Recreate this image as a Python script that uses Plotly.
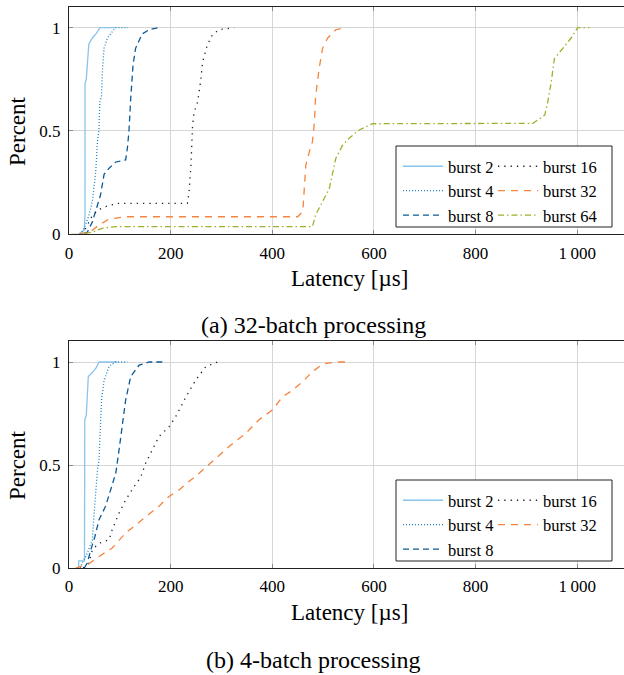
import plotly.graph_objects as go

# ---------------- data (a) 32-batch processing ----------------
a_b2_x = [18, 25, 30, 31.5, 31.5, 34, 39, 46, 53, 61, 92]
a_b2_y = [0, 0.01, 0.02, 0.1, 0.73, 0.75, 0.92, 0.95, 0.97, 1.0, 1.0]

a_b4_x = [22, 30, 39, 46, 52.5, 56, 59, 60.5, 64, 66, 69, 75.5, 85, 92, 116]
a_b4_y = [0, 0.03, 0.09, 0.16, 0.3, 0.45, 0.51, 0.64, 0.67, 0.8, 0.9, 0.95, 0.98, 1.0, 1.0]

a_b8_x = [30, 36, 46, 52.5, 58, 62, 69, 79, 92, 111.5, 115, 118, 121.5, 126, 131, 144, 158, 177]
a_b8_y = [0, 0.01, 0.06, 0.11, 0.16, 0.19, 0.29, 0.32, 0.35, 0.36, 0.42, 0.5, 0.66, 0.82, 0.9, 0.97, 0.99, 1.0]

a_b16_x = [25, 33, 46, 59, 72, 95, 233, 236, 240, 243, 246, 253, 259, 263, 272, 282, 295, 325]
a_b16_y = [0, 0.03, 0.09, 0.12, 0.134, 0.15, 0.15, 0.2, 0.335, 0.52, 0.59, 0.64, 0.74, 0.835, 0.915, 0.965, 0.99, 1.0]

a_b32_x = [20, 33, 46, 59, 79, 111, 450, 460, 463, 466, 473, 479, 483, 485, 492, 499, 509, 525, 545]
a_b32_y = [0, 0.01, 0.02, 0.045, 0.074, 0.085, 0.085, 0.11, 0.22, 0.335, 0.40, 0.448, 0.545, 0.66, 0.80, 0.90, 0.95, 0.99, 1.0]

a_b64_x = [5, 20, 46, 65, 92, 479, 485, 499, 512, 525, 538, 551, 571, 591, 597, 913, 919, 936, 942, 949, 955, 972, 988, 1001, 1024]
a_b64_y = [0, 0, 0.01, 0.029, 0.037, 0.037, 0.093, 0.158, 0.22, 0.368, 0.43, 0.465, 0.505, 0.528, 0.535, 0.537, 0.548, 0.577, 0.64, 0.74, 0.85, 0.90, 0.95, 1.0, 1.0]

# ---------------- data (b) 4-batch processing ----------------
b_b2_x = [19, 19, 30.5, 31, 34, 38, 46, 53, 59, 95]
b_b2_y = [0, 0.035, 0.035, 0.72, 0.74, 0.93, 0.95, 0.97, 1.0, 1.0]

b_b4_x = [22, 26, 36, 46, 49, 52.5, 56, 59, 61, 64, 69, 79, 92, 115]
b_b4_y = [0, 0.024, 0.073, 0.137, 0.25, 0.38, 0.476, 0.525, 0.654, 0.816, 0.91, 0.98, 1.0, 1.0]

b_b8_x = [30, 36, 43, 51, 59, 72, 82, 92, 98.5, 105, 111.5, 121.5, 138, 157.5, 184]
b_b8_y = [0, 0.024, 0.089, 0.153, 0.234, 0.30, 0.38, 0.46, 0.573, 0.70, 0.816, 0.93, 0.985, 1.0, 1.0]

b_b16_x = [28, 39, 46, 59, 79, 85, 98.5, 111.5, 128, 141, 151, 164, 177, 197, 210, 230, 249.5, 269, 292]
b_b16_y = [0, 0.024, 0.089, 0.12, 0.137, 0.186, 0.267, 0.33, 0.395, 0.44, 0.51, 0.573, 0.638, 0.686, 0.735, 0.83, 0.913, 0.977, 1.0]

b_b32_x = [13, 39, 59, 85, 111.5, 144, 177, 197, 217, 236, 256, 282, 315, 348, 374, 400, 420, 440, 460, 479, 499, 525, 548]
b_b32_y = [0, 0.02, 0.056, 0.097, 0.17, 0.234, 0.30, 0.347, 0.38, 0.42, 0.46, 0.517, 0.59, 0.654, 0.72, 0.767, 0.83, 0.864, 0.905, 0.953, 0.99, 1.0, 1.0]

series_names = ["burst 2", "burst 4", "burst 8", "burst 16", "burst 32", "burst 64"]
x_tickvals = [0, 200, 400, 600, 800, 1000]
x_ticktext = ["0", "200", "400", "600", "800", "1\u2009000"]
y_tickvals = [0, 0.5, 1]
y_ticktext = ["0", "0.5", "1"]

# ---------------- styles ----------------
styles = {
    "burst 2": dict(color="#88c4ec", dash="solid"),
    "burst 4": dict(color="#1f86c6", dash="1px,2px"),
    "burst 8": dict(color="#0b5a98", dash="6px,4px"),
    "burst 16": dict(color="#1a2433", dash="1.3px,5px"),
    "burst 32": dict(color="#f5843e", dash="7px,6px"),
    "burst 64": dict(color="#9db22c", dash="6px,3px,1.5px,3px"),
}

FONT = "Liberation Serif, Tinos, Times New Roman, Times, Nimbus Roman, DejaVu Serif, serif"
W, H = 624, 675
ML, MR, MT, MB = 69, 0, 7, 107
PW = W - ML - MR
PH = H - MT - MB


def px_x(p):
    return (p - ML) / PW


def px_y(p):
    return (H - MB - p) / PH


fig = go.Figure()

top = [(a_b2_x, a_b2_y), (a_b4_x, a_b4_y), (a_b8_x, a_b8_y),
       (a_b16_x, a_b16_y), (a_b32_x, a_b32_y), (a_b64_x, a_b64_y)]
bot = [(b_b2_x, b_b2_y), (b_b4_x, b_b4_y), (b_b8_x, b_b8_y),
       (b_b16_x, b_b16_y), (b_b32_x, b_b32_y)]

for i, (xs, ys) in enumerate(top):
    name = series_names[i]
    st = styles[name]
    fig.add_trace(go.Scatter(
        x=xs, y=ys, mode="lines", name=name, xaxis="x", yaxis="y",
        line=dict(color=st["color"], dash=st["dash"], width=1.3),
        legend="legend" if i < 3 else "legend2", showlegend=True))

for i, (xs, ys) in enumerate(bot):
    name = series_names[i]
    st = styles[name]
    fig.add_trace(go.Scatter(
        x=xs, y=ys, mode="lines", name=name, xaxis="x2", yaxis="y2",
        line=dict(color=st["color"], dash=st["dash"], width=1.3),
        legend="legend3" if i < 3 else "legend4", showlegend=True))

top_dom = [px_y(234.3), 1.0]
bot_dom = [0.0, px_y(341.4)]

xax = dict(range=[0, 1092], tickvals=x_tickvals, ticktext=x_ticktext,
           showgrid=True, gridcolor="#d6d6d6", gridwidth=1,
           showline=True, linecolor="#222", linewidth=1, mirror="ticks",
           ticks="inside", ticklen=4, tickcolor="#8a8a8a", zeroline=False,
           tickfont=dict(family=FONT, size=17, color="black"),
           ticklabelstandoff=3)
yax = dict(range=[0, 1.1], tickvals=y_tickvals, ticktext=y_ticktext,
           showgrid=True, gridcolor="#d6d6d6", gridwidth=1,
           showline=True, linecolor="#222", linewidth=1,
           ticks="inside", ticklen=4, tickcolor="#8a8a8a", zeroline=False,
           tickfont=dict(family=FONT, size=17, color="black"),
           ticklabelstandoff=4)

leg_common = dict(font=dict(family=FONT, size=16.5, color="black"),
                  bgcolor="rgba(0,0,0,0)", borderwidth=0,
                  xanchor="left", yanchor="top", tracegroupgap=0,
                  itemwidth=40)

TITLE = dict(family=FONT, size=23, color="black")
CAP = dict(family=FONT, size=24, color="black")

fig.update_layout(
    width=W, height=H,
    margin=dict(l=ML, r=MR, t=MT, b=MB),
    paper_bgcolor="white", plot_bgcolor="white",
    font=dict(family=FONT, color="black"),
    xaxis=dict(domain=[0, 1], anchor="y", **xax),
    yaxis=dict(domain=top_dom, anchor="x", **yax),
    xaxis2=dict(domain=[0, 1], anchor="y2", **xax),
    yaxis2=dict(domain=bot_dom, anchor="x2", **yax),
    legend=dict(x=px_x(398), y=px_y(149), **leg_common),
    legend2=dict(x=px_x(493), y=px_y(149), **leg_common),
    legend3=dict(x=px_x(398), y=px_y(483), **leg_common),
    legend4=dict(x=px_x(493), y=px_y(483), **leg_common),
    shapes=[
        dict(type="rect", xref="paper", yref="paper",
             x0=px_x(396), x1=px_x(612), y0=px_y(227), y1=px_y(146),
             line=dict(color="#222", width=1), fillcolor="white", layer="above"),
        dict(type="rect", xref="paper", yref="paper",
             x0=px_x(396), x1=px_x(612), y0=px_y(561), y1=px_y(480),
             line=dict(color="#222", width=1), fillcolor="white", layer="above"),
    ],
    annotations=[
        dict(text="Percent", xref="paper", yref="paper", x=px_x(17), y=px_y(131),
             textangle=-90, showarrow=False, xanchor="center", yanchor="middle",
             font=TITLE),
        dict(text="Percent", xref="paper", yref="paper", x=px_x(17), y=px_y(465),
             textangle=-90, showarrow=False, xanchor="center", yanchor="middle",
             font=TITLE),
        dict(text="Latency [µs]", xref="paper", yref="paper", x=px_x(349), y=px_y(278),
             showarrow=False, xanchor="center", yanchor="middle", font=TITLE),
        dict(text="Latency [µs]", xref="paper", yref="paper", x=px_x(349), y=px_y(612),
             showarrow=False, xanchor="center", yanchor="middle", font=TITLE),
        dict(text="(a) 32-batch processing", xref="paper", yref="paper", x=px_x(313), y=px_y(325),
             showarrow=False, xanchor="center", yanchor="middle", font=CAP),
        dict(text="(b) 4-batch processing", xref="paper", yref="paper", x=px_x(313), y=px_y(660),
             showarrow=False, xanchor="center", yanchor="middle", font=CAP),
    ],
)

fig.write_html("out.html",
               config={"displayModeBar": False},
               post_script="document.body.style.margin='0';document.body.style.overflow='hidden';")
